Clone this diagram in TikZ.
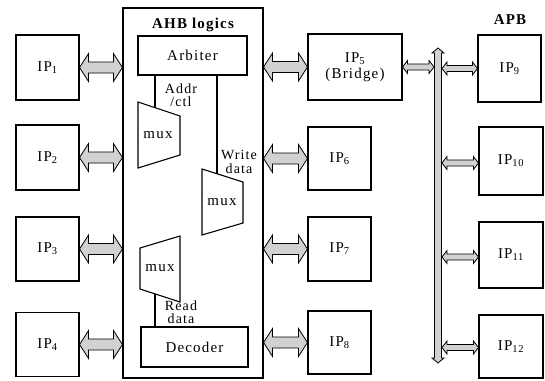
\documentclass[tikz,border=0pt]{standalone}
\usepackage{fontspec}
\setmainfont[LetterSpace=8]{Liberation Serif}
\usetikzlibrary{calc}

\tikzset{
  blk/.style={draw, line width=1.1pt, inner sep=0pt, font=\fontsize{15}{16}\selectfont},
  ipbox/.style={blk, minimum width=63, minimum height=65},
  lbl/.style={font=\fontsize{14}{13.5}\selectfont, align=center, inner sep=0pt},
  title/.style={font=\bfseries\fontsize{15}{16}\selectfont, inner sep=0pt},
  link/.style={draw=black, line width=0.8pt, fill=black!18, line join=miter},
  wire/.style={line width=1.1pt},
}

% horizontal fat arrow: from, to, shaft half, head half, head length
\newcommand{\hlink}[5]{%
  \draw[link] let \p1=#1, \p2=#2 in
    (\x1,\y1) -- (\x1+#5,\y1+#4) -- (\x1+#5,\y1+#3) -- (\x2-#5,\y1+#3)
    -- (\x2-#5,\y1+#4) -- (\x2,\y1) -- (\x2-#5,\y1-#4) -- (\x2-#5,\y1-#3)
    -- (\x1+#5,\y1-#3) -- (\x1+#5,\y1-#4) -- cycle;}
% vertical fat arrow, same arguments
\newcommand{\vlink}[5]{%
  \draw[link] let \p1=#1, \p2=#2 in
    (\x1,\y1) -- (\x1+#4,\y1-#5) -- (\x1+#3,\y1-#5) -- (\x1+#3,\y2+#5)
    -- (\x1+#4,\y2+#5) -- (\x1,\y2) -- (\x1-#4,\y2+#5) -- (\x1-#3,\y2+#5)
    -- (\x1-#3,\y1-#5) -- (\x1-#4,\y1-#5) -- cycle;}

\begin{document}
\begin{tikzpicture}[x=1pt, y=-1pt]
  \useasboundingbox (0,0) rectangle (545,380);

  % AHB block
  \node[blk, minimum width=140, minimum height=370] (ahb) at (193,193) {};
  \node[title] (ahbname) at (193,25) {AHB logics};
  \node[blk, minimum width=109, minimum height=39] (arbiter) at (192.5,55.5) {Arbiter};
  \node[blk, minimum width=107, minimum height=40] (decoder) at (194.5,347) {Decoder};

  % muxes
  \draw[wire] (138,102) coordinate (m1a) -- (180,116) coordinate (m1b)
    -- (180,155) -- (138,168) -- cycle;
  \node[blk, draw=none] (mux1) at (158,135) {mux};
  \draw[wire] (202,169) coordinate (m2a) -- (243,182) coordinate (m2b)
    -- (243,223) -- (202,235) -- cycle;
  \node[blk, draw=none] (mux2) at (222,202) {mux};
  \draw[wire] (140,248) -- (180,236) -- (180,302) coordinate (m3b)
    -- (140,289) coordinate (m3a) -- cycle;
  \node[blk, draw=none] (mux3) at (160,268) {mux};

  % internal wires
  \coordinate (addrend) at ($(m1a)!0.405!(m1b)$);
  \coordinate (wrend) at ($(m2a)!0.366!(m2b)$);
  \coordinate (rdend) at ($(m3a)!0.375!(m3b)$);
  \draw[wire] (arbiter.south -| addrend) -- (addrend);
  \draw[wire] (arbiter.south -| wrend) -- (wrend);
  \draw[wire] (rdend) -- (decoder.north -| rdend);
  \node[lbl] (addr) at (181,95) {Addr\\/ctl};
  \node[lbl] (wdata) at (239,162) {Write\\data};
  \node[lbl] (rdata) at (181,312) {Read\\data};

  % AHB masters / slaves
  \node[ipbox] (ip1) at (47.5,67.5) {IP\textsubscript{1}};
  \node[ipbox] (ip2) at (47.5,157.5) {IP\textsubscript{2}};
  \node[ipbox, minimum height=64] (ip3) at (47.5,249) {IP\textsubscript{3}};
  \node[ipbox, minimum height=64] (ip4) at (47.5,344.5) {IP\textsubscript{4}};
  \node[ipbox, minimum width=94, minimum height=66, align=center] (ip5) at (355,67)
    {IP\textsubscript{5}\\(Bridge)};
  \node[ipbox, minimum height=63] (ip6) at (339.5,158.5) {IP\textsubscript{6}};
  \node[ipbox, minimum height=64] (ip7) at (339.5,249) {IP\textsubscript{7}};
  \node[ipbox, minimum height=63] (ip8) at (339.5,342.5) {IP\textsubscript{8}};

  % APB side
  \node[title] (apbname) at (510,20) {APB};
  \node[ipbox, minimum height=67] (ip9) at (509.5,68.5) {IP\textsubscript{9}};
  \node[ipbox, minimum width=64, minimum height=68] (ip10) at (511,161) {IP\textsubscript{10}};
  \node[ipbox, minimum width=64, minimum height=66] (ip11) at (511,255) {IP\textsubscript{11}};
  \node[ipbox, minimum width=64, minimum height=63] (ip12) at (511,346.5) {IP\textsubscript{12}};

  % AHB links
  \foreach \k in {1,2,3,4}
    \hlink{(ip\k.east)}{(ahb.west |- ip\k.east)}{5.5pt}{14pt}{9pt};
  \foreach \k in {5,6,7,8}
    \hlink{(ahb.east |- ip\k.west)}{(ip\k.west)}{5.5pt}{14pt}{9pt};

  % APB bus
  \coordinate (apbtop) at (438,48);
  \coordinate (apbbot) at (438,363);
  \hlink{(ip5.east)}{($(apbtop |- ip5.east)+(-4,0)$)}{3pt}{6.5pt}{5pt};
  \foreach \k/\dy in {9/0,10/2,11/2,12/1}
    \hlink{($(apbtop |- ip\k.west)+(4,\dy)$)}{($(ip\k.west)+(0,\dy)$)}{3pt}{6.5pt}{5pt};
  \vlink{(apbtop)}{(apbbot)}{3.5pt}{6pt}{5pt};
\end{tikzpicture}
\end{document}
